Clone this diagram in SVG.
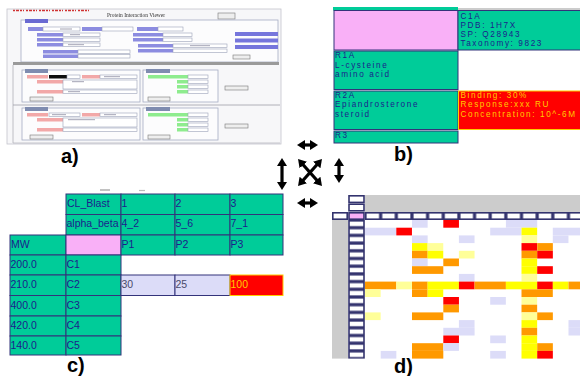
<svg xmlns="http://www.w3.org/2000/svg" width="580" height="376" viewBox="0 0 580 376">
<defs>
  <filter id="soft" x="-5%" y="-5%" width="110%" height="110%"><feGaussianBlur stdDeviation="0.55"/></filter>
  <marker id="head" markerUnits="userSpaceOnUse" markerWidth="8" markerHeight="10" viewBox="0 0 8 10" refX="2" refY="5" orient="auto-start-reverse">
    <path d="M0,0 L8,5 L0,10 z" fill="#000"/>
  </marker>
  <pattern id="colbox" patternUnits="userSpaceOnUse" x="348" y="220" width="17" height="7.7">
    <rect x="1" y="0.8" width="15" height="6.1" fill="#fff" stroke="#33336e" stroke-width="1.6"/>
  </pattern>
  <pattern id="rowbox" patternUnits="userSpaceOnUse" x="365" y="212" width="15.65" height="8">
    <rect x="0.8" y="0.8" width="14.05" height="6.4" fill="#fff" stroke="#33336e" stroke-width="1.6"/>
  </pattern>
</defs>
<style>
  .lbl{font-family:"Liberation Sans",Arial,sans-serif;font-weight:bold;font-size:20px;fill:#000}
  .tb{font-family:"Liberation Sans",Arial,sans-serif;font-size:8.2px;letter-spacing:1.6px;fill:#1c1c8c}
  .tc{font-family:"Liberation Sans",Arial,sans-serif;font-size:10.5px;fill:#1c1c8c}
  .hot{fill:#ffcc00}
  .teal{fill:#00cc99}
  .pink{fill:#f9b0f7}
  .lav{fill:#dcdcf8}
  .redc{fill:#ff0000;stroke:#ffcc00;stroke-width:1}
  .cell{stroke:#33337a;stroke-width:1}
  .bx{fill:#fff;stroke:#33336e;stroke-width:1.6}
  .arr{stroke:#000;stroke-width:3.2;fill:none;marker-start:url(#head);marker-end:url(#head)}
  .in{fill:#fff;stroke:#9aa0b8;stroke-width:0.6}
  .bl{fill:#8c8ce0}
  .bb{fill:#7676dc}
  .pk{fill:#f2a8a8}
  .gr{fill:#8eec8e}
  .btn{fill:#eeeeee;stroke:#777;stroke-width:0.6}
  .frm{fill:#fcfcfd;stroke:#a6acc4;stroke-width:0.8}
  .tab{fill:#7f8cb0}
  .R{fill:#ff0000}.O{fill:#ff9900}.Y{fill:#ffff00}.LY{fill:#ffff99}.L{fill:#dcdcf8}
</style>

<rect width="580" height="376" fill="#fff"/>

<!-- a) screenshot of the viewer form -->
<g id="panel-a" filter="url(#soft)">
  <rect x="7" y="9" width="274" height="135" fill="#f7f7f9" stroke="#c4c4cc" stroke-width="0.8"/>
  <line x1="13" y1="10.5" x2="90" y2="10.5" stroke="#d03030" stroke-width="1.6" stroke-dasharray="2 1 3 1 2 1 1 2"/>
  <text x="136" y="17" text-anchor="middle" font-family="Liberation Serif, serif" font-size="5.5" fill="#333">Protein Interaction Viewer</text>
  <rect class="btn" x="218" y="13" width="17" height="6"/>
  <!-- query form -->
  <rect class="frm" x="21" y="20" width="257" height="42"/>
  <rect x="25" y="19" width="23" height="4" fill="#6a6ad2"/>
  <rect class="bl" x="28" y="27" width="15" height="4"/><rect class="in" x="43" y="27" width="37" height="4"/>
  <rect class="bl" x="82" y="27" width="20" height="4"/><rect class="in" x="102" y="27" width="31" height="4"/>
  <rect class="bl" x="137" y="27" width="21" height="4"/><rect class="in" x="158" y="27" width="25" height="4"/>
  <rect class="bl" x="37" y="33" width="26" height="3.5"/><rect class="in" x="63" y="33" width="37" height="3.5"/>
  <rect class="bl" x="37" y="38" width="26" height="3.5"/><rect class="in" x="63" y="38" width="37" height="3.5"/>
  <rect class="bl" x="37" y="43" width="26" height="3.5"/><rect class="in" x="63" y="43" width="37" height="3.5"/>
  <rect class="bl" x="133" y="33" width="30" height="3.5"/><rect class="in" x="163" y="33" width="29" height="3.5"/>
  <rect class="bl" x="133" y="38" width="30" height="3.5"/><rect class="in" x="163" y="38" width="29" height="3.5"/>
  <rect class="bl" x="43" y="50" width="35" height="3.5"/><rect class="in" x="78" y="50" width="52" height="3.5"/>
  <rect class="bl" x="43" y="54.5" width="35" height="3.5"/><rect class="in" x="78" y="54.5" width="52" height="3.5"/>
  <rect class="bl" x="138" y="44" width="35" height="3.5"/><rect class="in" x="173" y="44" width="54" height="3.5"/>
  <rect class="bl" x="138" y="49" width="35" height="3.5"/><rect class="in" x="173" y="49" width="54" height="3.5"/>
  <rect class="bb" x="235" y="32" width="43" height="4"/>
  <rect class="bb" x="235" y="38.5" width="43" height="4"/>
  <rect class="bb" x="235" y="45" width="43" height="4"/>
  <rect class="btn" x="233" y="55" width="17" height="4"/>
  <g stroke="#8a8aa0" stroke-width="0.8">
    <line x1="70" y1="34.7" x2="80" y2="34.7"/><line x1="68" y1="44.7" x2="84" y2="44.7"/>
    <line x1="190" y1="45.7" x2="210" y2="45.7"/><line x1="60" y1="29" x2="72" y2="29"/>
  </g>
  <!-- separator and left rail -->
  <rect x="13" y="62" width="266" height="3" fill="#9a9a9a"/>
  <line x1="13" y1="65" x2="13" y2="143" stroke="#b0b0b8" stroke-width="0.8"/>
  <!-- result sections -->
  <g id="section-1">
    <rect class="frm" x="22" y="70" width="118" height="32"/>
    <rect class="tab" x="25" y="69" width="23" height="4"/>
    <rect class="pk" x="27" y="75" width="21" height="3.5"/><rect x="49" y="75" width="18" height="3.5" fill="#111"/>
    <rect class="in" x="67" y="75" width="13" height="3.5"/>
    <rect class="pk" x="82" y="75" width="18" height="3.5"/><rect class="in" x="100" y="75" width="37" height="3.5"/>
    <rect class="pk" x="37" y="80" width="26" height="3.5"/><rect class="in" x="63" y="80" width="74" height="9"/>
    <rect class="pk" x="37" y="90" width="26" height="3.5"/><rect class="in" x="63" y="90" width="74" height="3.5"/>
    <rect class="btn" x="30" y="97" width="23" height="4"/>
    <rect class="frm" x="143" y="70" width="75" height="32"/>
    <rect class="tab" x="146" y="69" width="24" height="4"/>
    <rect class="gr" x="148" y="75" width="40" height="3.5"/><rect class="in" x="188" y="75" width="20" height="3.5"/>
    <rect class="gr" x="177" y="80" width="11" height="3.5"/><rect class="in" x="188" y="80" width="20" height="3.5"/>
    <rect class="gr" x="177" y="85" width="11" height="3.5"/><rect class="in" x="188" y="85" width="20" height="3.5"/>
    <rect class="gr" x="177" y="90" width="11" height="3.5"/><rect class="in" x="188" y="90" width="20" height="3.5"/>
    <rect class="btn" x="148" y="97" width="22" height="4"/>
    <rect class="btn" x="225" y="86" width="23" height="4"/>
    <g stroke="#8a8aa0" stroke-width="0.8">
      <line x1="72" y1="81.7" x2="84" y2="81.7"/><line x1="68" y1="91.7" x2="80" y2="91.7"/>
      <line x1="104" y1="76.7" x2="120" y2="76.7"/>
    </g>
  </g>
  <line x1="13" y1="105" x2="280" y2="105" stroke="#a0a0a8" stroke-width="0.8"/>
  <g id="section-2" transform="translate(0,38)">
    <rect class="frm" x="22" y="70" width="118" height="32"/>
    <rect class="tab" x="25" y="69" width="23" height="4"/>
    <rect class="pk" x="27" y="75" width="21" height="3.5"/><rect class="in" x="49" y="75" width="31" height="3.5"/>
    <rect class="pk" x="82" y="75" width="18" height="3.5"/><rect class="in" x="100" y="75" width="37" height="3.5"/>
    <rect class="pk" x="37" y="80" width="26" height="3.5"/><rect class="in" x="63" y="80" width="74" height="9"/>
    <rect class="pk" x="37" y="90" width="26" height="3.5"/><rect class="in" x="63" y="90" width="74" height="3.5"/>
    <rect class="btn" x="30" y="97" width="23" height="4"/>
    <rect class="frm" x="143" y="70" width="75" height="32"/>
    <rect class="tab" x="146" y="69" width="24" height="4"/>
    <rect class="gr" x="148" y="75" width="40" height="3.5"/><rect class="in" x="188" y="75" width="20" height="3.5"/>
    <rect class="gr" x="177" y="80" width="11" height="3.5"/><rect class="in" x="188" y="80" width="20" height="3.5"/>
    <rect class="gr" x="177" y="85" width="11" height="3.5"/><rect class="in" x="188" y="85" width="20" height="3.5"/>
    <rect class="gr" x="177" y="90" width="11" height="3.5"/><rect class="in" x="188" y="90" width="20" height="3.5"/>
    <rect class="btn" x="148" y="97" width="22" height="4"/>
    <rect class="btn" x="225" y="86" width="23" height="4"/>
    <g stroke="#8a8aa0" stroke-width="0.8">
      <line x1="52" y1="76.7" x2="66" y2="76.7"/><line x1="68" y1="81.7" x2="95" y2="81.7"/>
      <line x1="104" y1="76.7" x2="116" y2="76.7"/>
    </g>
  </g>
  <line x1="13" y1="143" x2="280" y2="143" stroke="#b8b8c0" stroke-width="0.8"/>
</g>
<text class="lbl" x="61" y="163">a)</text>

<!-- b) annotated interaction table -->
<g id="panel-b">
  <rect x="333" y="7" width="125" height="3.5" class="teal"/>
  <rect x="458" y="8" width="122" height="2.5" fill="#cccccc"/>
  <rect x="334" y="10.5" width="124" height="39.5" class="pink cell"/>
  <rect x="458" y="10.5" width="124" height="39.5" class="teal cell"/>
  <rect x="334" y="51" width="124" height="38.5" class="teal cell"/>
  <rect x="334" y="91" width="124" height="38.5" class="teal cell"/>
  <rect x="458.5" y="91" width="123" height="38.5" class="redc"/>
  <rect x="334" y="131" width="124" height="12" class="teal cell"/>
  <text class="tb" x="460.5" y="18.8">C1A</text>
  <text class="tb" x="460.5" y="28">PDB: 1H7X</text>
  <text class="tb" x="460.5" y="37.2">SP: Q28943</text>
  <text class="tb" x="460.5" y="46.4">Taxonomy: 9823</text>
  <text class="tb" x="335" y="58.3">R1A</text>
  <text class="tb" x="335" y="67.5">L-cysteine</text>
  <text class="tb" x="335" y="76.7">amino acid</text>
  <text class="tb" x="335" y="98.2">R2A</text>
  <text class="tb" x="335" y="107.4">Epiandrosterone</text>
  <text class="tb" x="335" y="116.6">steroid</text>
  <text class="tb hot" x="460.5" y="98.2">Binding: 30%</text>
  <text class="tb hot" x="460.5" y="107.4">Response:xxx RU</text>
  <text class="tb hot" x="460.5" y="116.6">Concentration: 10^-6M</text>
  <text class="tb" x="335" y="137.8">R3</text>
</g>
<text class="lbl" x="394" y="161">b)</text>

<!-- c) compound / protein grid -->
<g id="panel-c">
  <line x1="100" y1="190" x2="110" y2="190" stroke="#999" stroke-width="1.2"/>
  <line x1="139" y1="190.5" x2="145" y2="190.5" stroke="#bbb" stroke-width="1.2"/>
  <g class="cell">
    <rect x="66" y="194" width="55" height="20.5" class="teal"/>
    <rect x="121" y="194" width="54" height="20.5" class="teal"/>
    <rect x="175" y="194" width="55" height="20.5" class="teal"/>
    <rect x="230" y="194" width="53" height="20.5" class="teal"/>
    <rect x="66" y="214.5" width="55" height="20.5" class="teal"/>
    <rect x="121" y="214.5" width="54" height="20.5" class="teal"/>
    <rect x="175" y="214.5" width="55" height="20.5" class="teal"/>
    <rect x="230" y="214.5" width="53" height="20.5" class="teal"/>
    <rect x="10" y="235" width="56" height="20" class="teal"/>
    <rect x="66" y="235" width="55" height="20" class="pink"/>
    <rect x="121" y="235" width="54" height="20" class="teal"/>
    <rect x="175" y="235" width="55" height="20" class="teal"/>
    <rect x="230" y="235" width="53" height="20" class="teal"/>
    <rect x="10" y="255" width="56" height="20" class="teal"/>
    <rect x="66" y="255" width="55" height="20" class="teal"/>
    <rect x="10" y="275" width="56" height="20.5" class="teal"/>
    <rect x="66" y="275" width="55" height="20.5" class="teal"/>
    <rect x="121" y="275" width="54" height="20.5" class="lav"/>
    <rect x="175" y="275" width="55" height="20.5" class="lav"/>
    <rect x="10" y="295.5" width="56" height="20.5" class="teal"/>
    <rect x="66" y="295.5" width="55" height="20.5" class="teal"/>
    <rect x="10" y="316" width="56" height="20" class="teal"/>
    <rect x="66" y="316" width="55" height="20" class="teal"/>
    <rect x="10" y="336" width="56" height="19" class="teal"/>
    <rect x="66" y="336" width="55" height="19" class="teal"/>
  </g>
  <rect x="230" y="275" width="53" height="20.5" class="redc"/>
  <text class="tc" x="67" y="206.5">CL_Blast</text>
  <text class="tc" x="121.5" y="206.5">1</text>
  <text class="tc" x="175.5" y="206.5">2</text>
  <text class="tc" x="230.5" y="206.5">3</text>
  <text class="tc" x="66.5" y="227">alpha_beta</text>
  <text class="tc" x="121.5" y="227">4_2</text>
  <text class="tc" x="175.5" y="227">5_6</text>
  <text class="tc" x="230.5" y="227">7_1</text>
  <text class="tc" x="11" y="247.5">MW</text>
  <text class="tc" x="121.5" y="247.5">P1</text>
  <text class="tc" x="175.5" y="247.5">P2</text>
  <text class="tc" x="230.5" y="247.5">P3</text>
  <text class="tc" x="10.5" y="267.5">200.0</text>
  <text class="tc" x="66.5" y="267.5">C1</text>
  <text class="tc" x="10.5" y="288">210.0</text>
  <text class="tc" x="66.5" y="288">C2</text>
  <text class="tc" x="121.5" y="288" style="fill:#4a4a6a">30</text>
  <text class="tc" x="175.5" y="288" style="fill:#4a4a6a">25</text>
  <text class="tc hot" x="230.5" y="288">100</text>
  <text class="tc" x="10.5" y="308.5">400.0</text>
  <text class="tc" x="66.5" y="308.5">C3</text>
  <text class="tc" x="10.5" y="328.5">420.0</text>
  <text class="tc" x="66.5" y="328.5">C4</text>
  <text class="tc" x="10.5" y="348.5">140.0</text>
  <text class="tc" x="66.5" y="348.5">C5</text>
</g>
<text class="lbl" x="67" y="372">c)</text>

<!-- d) interaction heat map -->
<g id="panel-d">
  <rect x="365" y="195" width="215" height="17" fill="#cccccc"/>
  <rect x="332" y="220" width="16" height="138.6" fill="#cccccc"/>
  <g>
    <rect class="R" x="443.3" y="220" width="15.65" height="7.7"/><rect class="L" x="412" y="220" width="15.65" height="7.7"/>
    <rect class="L" x="505.9" y="220" width="31.3" height="7.7"/>
    <rect class="L" x="365" y="227.7" width="31.3" height="7.7"/><rect class="R" x="396.3" y="227.7" width="15.65" height="7.7"/>
    <rect class="L" x="490.2" y="227.7" width="31.3" height="7.7"/><rect class="Y" x="521.5" y="227.7" width="15.65" height="7.7"/>
    <rect class="L" x="552.8" y="227.7" width="31.3" height="7.7"/>
    <rect class="L" x="412" y="235.4" width="15.65" height="7.7"/><rect class="L" x="458.9" y="235.4" width="15.65" height="7.7"/>
    <rect class="LY" x="521.5" y="235.4" width="15.65" height="7.7"/><rect class="L" x="552.8" y="235.4" width="15.65" height="7.7"/>
    <rect class="Y" x="412" y="243.1" width="15.65" height="7.7"/><rect class="LY" x="427.6" y="243.1" width="15.65" height="7.7"/>
    <rect class="R" x="521.5" y="243.1" width="15.65" height="7.7"/><rect class="O" x="537.2" y="243.1" width="15.65" height="7.7"/>
    <rect class="O" x="412" y="250.8" width="15.65" height="7.7"/><rect class="Y" x="427.6" y="250.8" width="15.65" height="7.7"/>
    <rect class="LY" x="458.9" y="250.8" width="15.65" height="7.7"/><rect class="O" x="521.5" y="250.8" width="15.65" height="7.7"/>
    <rect class="R" x="537.2" y="250.8" width="15.65" height="7.7"/>
    <rect class="L" x="412" y="258.5" width="15.65" height="7.7"/><rect class="O" x="443.3" y="258.5" width="15.65" height="7.7"/>
    <rect class="Y" x="521.5" y="258.5" width="15.65" height="7.7"/>
    <rect class="O" x="412" y="266.2" width="31.3" height="7.7"/><rect class="Y" x="521.5" y="266.2" width="15.65" height="7.7"/>
    <rect class="R" x="537.2" y="266.2" width="15.65" height="7.7"/>
    <rect class="L" x="458.9" y="273.9" width="15.65" height="7.7"/><rect class="LY" x="521.5" y="273.9" width="15.65" height="7.7"/>
    <rect class="O" x="365" y="281.6" width="31.3" height="7.7"/><rect class="LY" x="396.3" y="281.6" width="15.65" height="7.7"/>
    <rect class="O" x="412" y="281.6" width="15.65" height="7.7"/><rect class="Y" x="427.6" y="281.6" width="31.3" height="7.7"/>
    <rect class="R" x="458.9" y="281.6" width="15.65" height="7.7"/><rect class="O" x="474.6" y="281.6" width="31.3" height="7.7"/>
    <rect class="Y" x="505.9" y="281.6" width="31.3" height="7.7"/><rect class="R" x="537.2" y="281.6" width="15.65" height="7.7"/>
    <rect class="Y" x="552.8" y="281.6" width="15.65" height="7.7"/><rect class="O" x="568.5" y="281.6" width="15.65" height="7.7"/>
    <rect class="LY" x="365" y="289.3" width="15.65" height="7.7"/><rect class="O" x="412" y="289.3" width="15.65" height="7.7"/>
    <rect class="Y" x="427.6" y="289.3" width="15.65" height="7.7"/><rect class="O" x="521.5" y="289.3" width="31.3" height="7.7"/>
    <rect class="R" x="443.3" y="297" width="15.65" height="7.7"/><rect class="L" x="490.2" y="297" width="15.65" height="7.7"/>
    <rect class="LY" x="521.5" y="297" width="15.65" height="7.7"/>
    <rect class="O" x="443.3" y="304.7" width="15.65" height="7.7"/><rect class="O" x="521.5" y="304.7" width="15.65" height="7.7"/>
    <rect class="LY" x="365" y="312.4" width="15.65" height="7.7"/><rect class="O" x="412" y="312.4" width="31.3" height="7.7"/>
    <rect class="LY" x="521.5" y="312.4" width="15.65" height="7.7"/><rect class="O" x="537.2" y="312.4" width="15.65" height="7.7"/>
    <rect class="L" x="458.9" y="320.1" width="15.65" height="7.7"/><rect class="Y" x="521.5" y="320.1" width="15.65" height="7.7"/>
    <rect class="L" x="568.5" y="320.1" width="15.65" height="7.7"/>
    <rect class="L" x="443.3" y="327.8" width="31.3" height="7.7"/><rect class="O" x="521.5" y="327.8" width="15.65" height="7.7"/>
    <rect class="L" x="568.5" y="327.8" width="15.65" height="7.7"/>
    <rect class="R" x="443.3" y="335.5" width="15.65" height="7.7"/><rect class="L" x="490.2" y="335.5" width="15.65" height="7.7"/>
    <rect class="Y" x="521.5" y="335.5" width="15.65" height="7.7"/>
    <rect class="O" x="412" y="343.2" width="31.3" height="7.7"/><rect class="L" x="443.3" y="343.2" width="15.65" height="7.7"/>
    <rect class="Y" x="521.5" y="343.2" width="15.65" height="7.7"/><rect class="O" x="537.2" y="343.2" width="15.65" height="7.7"/>
    <rect class="L" x="380.7" y="350.9" width="15.65" height="7.7"/><rect class="O" x="412" y="350.9" width="31.3" height="7.7"/>
    <rect class="L" x="490.2" y="350.9" width="15.65" height="7.7"/><rect class="Y" x="521.5" y="350.9" width="15.65" height="7.7"/>
    <rect class="R" x="537.2" y="350.9" width="15.65" height="7.7"/>
  </g>
  <!-- row and column header boxes -->
  <rect x="365" y="212" width="215" height="8" fill="url(#rowbox)"/>
  <rect x="348" y="220" width="17" height="138.6" fill="url(#colbox)"/>
  <rect class="bx" x="332.8" y="212.8" width="14.4" height="6.4"/>
  <rect class="bx" x="349" y="212.8" width="15" height="6.4" style="fill:#f9b0f7"/>
  <rect class="bx" x="349" y="195.8" width="15" height="6.6"/>
  <rect class="bx" x="349" y="204.2" width="15" height="6.6"/>
</g>
<text class="lbl" x="394" y="373">d)</text>

<!-- links between the four views -->
<g id="connectors">
  <line class="arr" x1="303" y1="145" x2="312" y2="145"/>
  <line class="arr" x1="303" y1="203" x2="312" y2="203"/>
  <line class="arr" x1="282" y1="164" x2="282" y2="184"/>
  <line class="arr" x1="339" y1="164" x2="339" y2="177"/>
  <line class="arr" x1="302" y1="163.5" x2="318" y2="181.5"/>
  <line class="arr" x1="318" y1="163.5" x2="302" y2="181.5"/>
</g>
</svg>
